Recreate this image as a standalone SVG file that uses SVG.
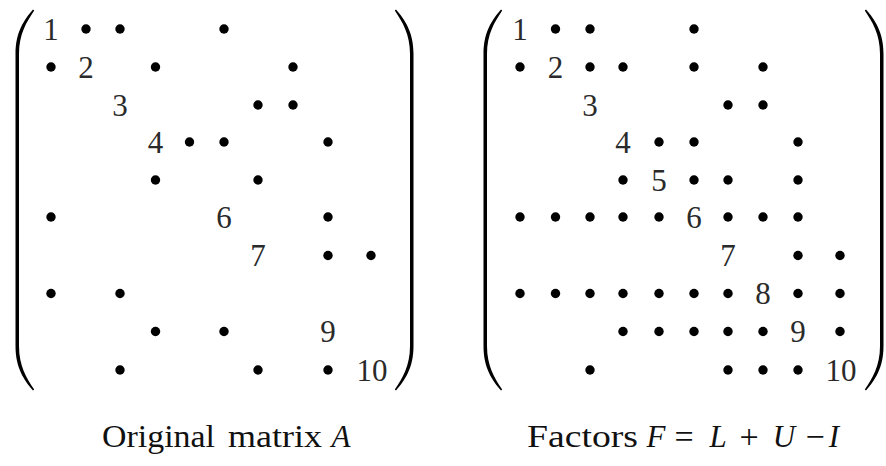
<svg xmlns="http://www.w3.org/2000/svg" width="886" height="466" viewBox="0 0 886 466">
<style>
.d{fill:#000}
text{font-family:'Liberation Serif','DejaVu Serif',serif;font-size:31px}
.n{fill:#2a2a2a;text-anchor:middle}
.c{fill:#111}
.m{fill:#111;text-anchor:middle}
.o{font-size:34px}
.i{font-style:italic}
.p{fill:#000}
</style>
<defs>
<path id="lp" d="M33 9.5 C24 20 15.5 32 15.5 54 L15.5 346 C15.5 368 24 380 33 390.5 L34.2 389.6 C26.5 378 19 366 19 346 L19 54 C19 34 26.5 22 34.2 10.4 Z"/>
</defs>
<rect width="886" height="466" fill="#fff"/>
<g id="matrix-A">
<use href="#lp" class="p"/>
<use href="#lp" class="p" transform="translate(429,0) scale(-1,1)"/>
<g id="A-row1"><text class="n" x="51" y="39.5">1</text><circle class="d" cx="86" cy="29" r="4.7"/><circle class="d" cx="120" cy="29" r="4.7"/><circle class="d" cx="224" cy="29" r="4.7"/></g>
<g id="A-row2"><circle class="d" cx="51" cy="67" r="4.7"/><text class="n" x="86" y="77.5">2</text><circle class="d" cx="155.5" cy="67" r="4.7"/><circle class="d" cx="293" cy="67" r="4.7"/></g>
<g id="A-row3"><text class="n" x="120" y="115.5">3</text><circle class="d" cx="258" cy="105" r="4.7"/><circle class="d" cx="293" cy="105" r="4.7"/></g>
<g id="A-row4"><text class="n" x="155.5" y="152.5">4</text><circle class="d" cx="189.5" cy="142" r="4.7"/><circle class="d" cx="224" cy="142" r="4.7"/><circle class="d" cx="328" cy="142" r="4.7"/></g>
<g id="A-row5"><circle class="d" cx="155.5" cy="180" r="4.7"/><circle class="d" cx="258" cy="180" r="4.7"/></g>
<g id="A-row6"><circle class="d" cx="51" cy="217" r="4.7"/><text class="n" x="224" y="227.5">6</text><circle class="d" cx="328" cy="217" r="4.7"/></g>
<g id="A-row7"><text class="n" x="258" y="266">7</text><circle class="d" cx="328" cy="255.5" r="4.7"/><circle class="d" cx="371" cy="255.5" r="4.7"/></g>
<g id="A-row8"><circle class="d" cx="51" cy="293.5" r="4.7"/><circle class="d" cx="120" cy="293.5" r="4.7"/></g>
<g id="A-row9"><circle class="d" cx="155.5" cy="331.5" r="4.7"/><circle class="d" cx="224" cy="331.5" r="4.7"/><text class="n" x="328" y="342">9</text></g>
<g id="A-row10"><circle class="d" cx="120" cy="370" r="4.7"/><circle class="d" cx="258" cy="370" r="4.7"/><circle class="d" cx="328" cy="370" r="4.7"/><text class="n" x="372" y="380.5">10</text></g>
<g id="A-caption"><text class="c" x="102" y="447" textLength="113" lengthAdjust="spacingAndGlyphs">Original</text><text class="c" x="228" y="447" textLength="94" lengthAdjust="spacingAndGlyphs">matrix</text><text class="m i" x="341" y="447">A</text></g>
</g>
<g id="matrix-F">
<use href="#lp" class="p" transform="translate(468,0)"/>
<use href="#lp" class="p" transform="translate(899,0) scale(-1,1)"/>
<g id="F-row1"><text class="n" x="520" y="39.5">1</text><circle class="d" cx="555.5" cy="29" r="4.7"/><circle class="d" cx="590" cy="29" r="4.7"/><circle class="d" cx="694" cy="29" r="4.7"/></g>
<g id="F-row2"><circle class="d" cx="520" cy="67" r="4.7"/><text class="n" x="555.5" y="77.5">2</text><circle class="d" cx="590" cy="67" r="4.7"/><circle class="d" cx="623" cy="67" r="4.7"/><circle class="d" cx="694" cy="67" r="4.7"/><circle class="d" cx="763" cy="67" r="4.7"/></g>
<g id="F-row3"><text class="n" x="590" y="115.5">3</text><circle class="d" cx="728" cy="105" r="4.7"/><circle class="d" cx="763" cy="105" r="4.7"/></g>
<g id="F-row4"><text class="n" x="623" y="152.5">4</text><circle class="d" cx="659" cy="142" r="4.7"/><circle class="d" cx="694" cy="142" r="4.7"/><circle class="d" cx="798" cy="142" r="4.7"/></g>
<g id="F-row5"><circle class="d" cx="623" cy="180" r="4.7"/><text class="n" x="659" y="190.5">5</text><circle class="d" cx="694" cy="180" r="4.7"/><circle class="d" cx="728" cy="180" r="4.7"/><circle class="d" cx="798" cy="180" r="4.7"/></g>
<g id="F-row6"><circle class="d" cx="520" cy="217" r="4.7"/><circle class="d" cx="555.5" cy="217" r="4.7"/><circle class="d" cx="590" cy="217" r="4.7"/><circle class="d" cx="623" cy="217" r="4.7"/><circle class="d" cx="659" cy="217" r="4.7"/><text class="n" x="694" y="227.5">6</text><circle class="d" cx="728" cy="217" r="4.7"/><circle class="d" cx="763" cy="217" r="4.7"/><circle class="d" cx="798" cy="217" r="4.7"/></g>
<g id="F-row7"><text class="n" x="728" y="266">7</text><circle class="d" cx="798" cy="255.5" r="4.7"/><circle class="d" cx="840" cy="255.5" r="4.7"/></g>
<g id="F-row8"><circle class="d" cx="520" cy="293.5" r="4.7"/><circle class="d" cx="555.5" cy="293.5" r="4.7"/><circle class="d" cx="590" cy="293.5" r="4.7"/><circle class="d" cx="623" cy="293.5" r="4.7"/><circle class="d" cx="659" cy="293.5" r="4.7"/><circle class="d" cx="694" cy="293.5" r="4.7"/><circle class="d" cx="728" cy="293.5" r="4.7"/><text class="n" x="763" y="304">8</text><circle class="d" cx="798" cy="293.5" r="4.7"/><circle class="d" cx="840" cy="293.5" r="4.7"/></g>
<g id="F-row9"><circle class="d" cx="623" cy="331.5" r="4.7"/><circle class="d" cx="659" cy="331.5" r="4.7"/><circle class="d" cx="694" cy="331.5" r="4.7"/><circle class="d" cx="728" cy="331.5" r="4.7"/><circle class="d" cx="763" cy="331.5" r="4.7"/><text class="n" x="798" y="342">9</text><circle class="d" cx="840" cy="331.5" r="4.7"/></g>
<g id="F-row10"><circle class="d" cx="590" cy="370" r="4.7"/><circle class="d" cx="728" cy="370" r="4.7"/><circle class="d" cx="763" cy="370" r="4.7"/><circle class="d" cx="798" cy="370" r="4.7"/><text class="n" x="841" y="380.5">10</text></g>
<g id="F-caption"><text class="c" x="527" y="447" textLength="111" lengthAdjust="spacingAndGlyphs">Factors</text><text class="m i" x="656" y="447">F</text><text class="m o" x="684" y="448">=</text><text class="m i" x="718" y="447">L</text><text class="m o" x="749" y="448">+</text><text class="m i" x="784" y="447">U</text><text class="m o" x="815" y="448">−</text><text class="m i" x="834" y="447">I</text></g>
</g>
<g id="connectors"/>
</svg>
